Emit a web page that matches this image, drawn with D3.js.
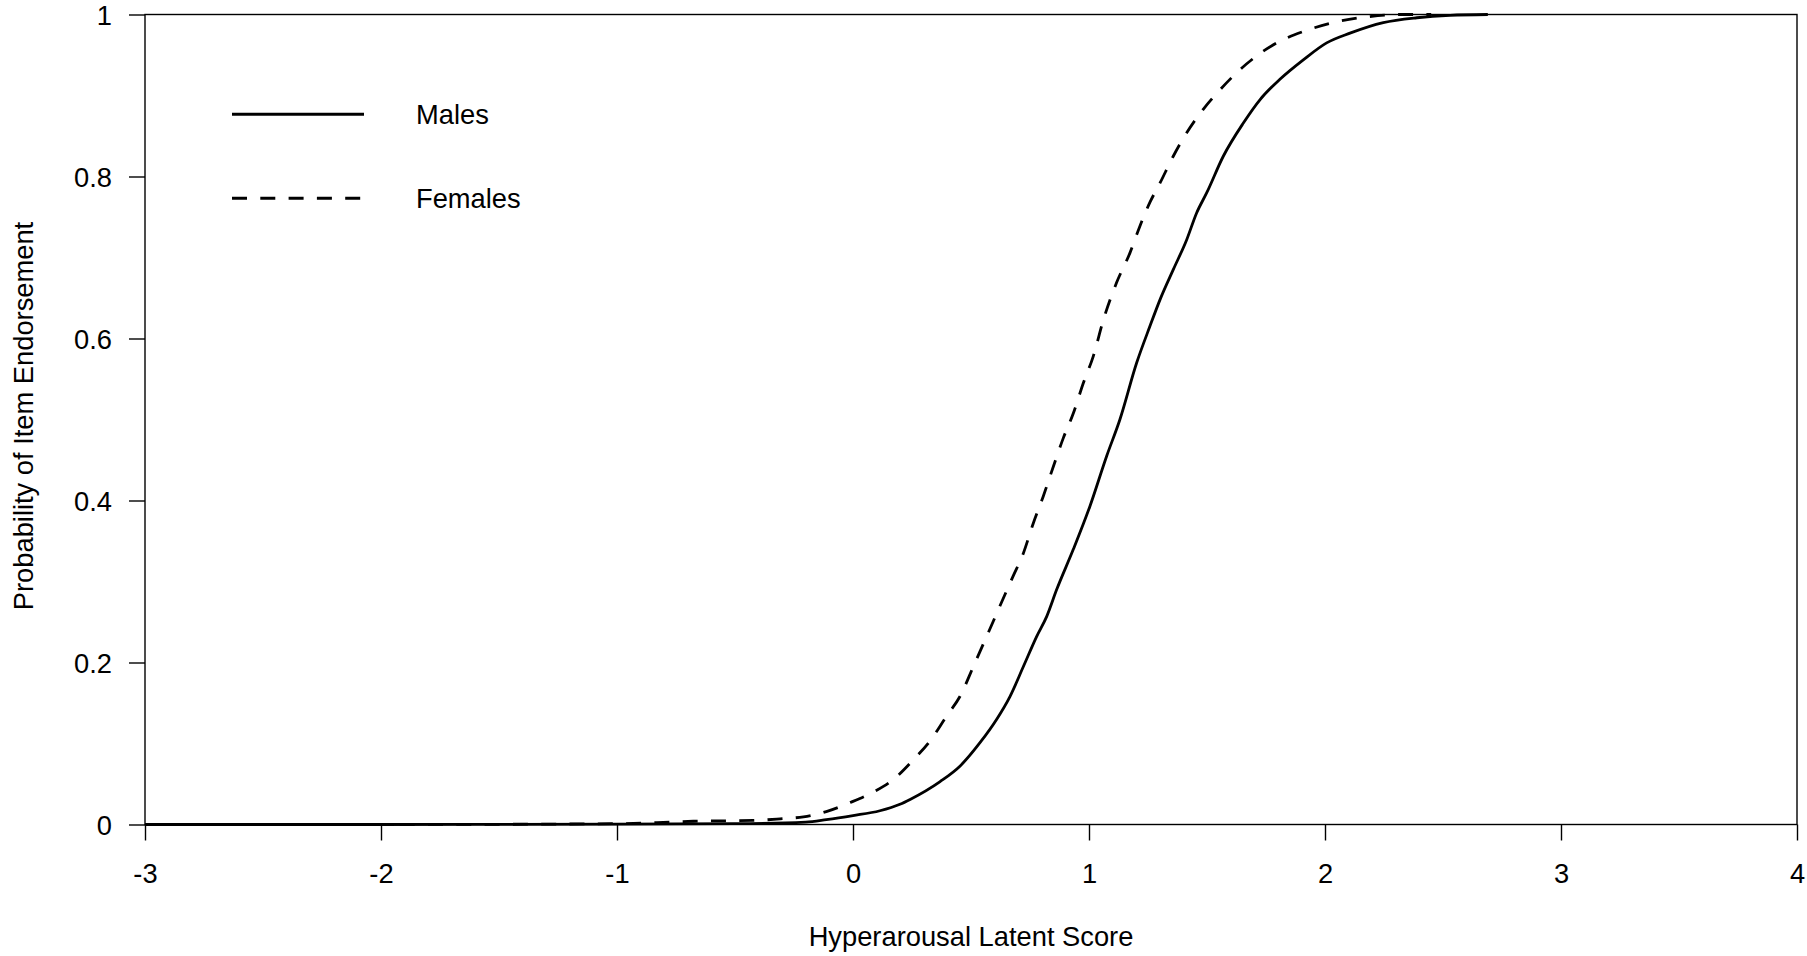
<!DOCTYPE html>
<html>
<head>
<meta charset="utf-8">
<script src="https://cdn.jsdelivr.net/npm/d3@7"></script>
<style>
  html, body { margin: 0; padding: 0; background: #fff; }
  svg { display: block; }
  text { font-family: "Liberation Sans", Arial, sans-serif; fill: #000; }
</style>
</head>
<body>
<svg id="chart" width="1807" height="956"></svg>
<script>
// ---- Data ----
const xTicks = [-3, -2, -1, 0, 1, 2, 3, 4];
const xTickLabels = ["-3", "-2", "-1", "0", "1", "2", "3", "4"];
const yTicks = [0, 0.2, 0.4, 0.6, 0.8, 1];
const yTickLabels = ["0", "0.2", "0.4", "0.6", "0.8", "1"];

const thetaMales = [-3, -2, -1, -0.5, -0.2, -0.113, 0, 0.114, 0.199, 0.242, 0.369, 0.453, 0.538, 0.609, 0.665, 0.722, 0.778, 0.821, 0.863, 0.934, 1.004, 1.075, 1.131, 1.202, 1.258, 1.301, 1.357, 1.414, 1.456, 1.499, 1.569, 1.654, 1.725, 1.809, 1.908, 2.007, 2.106, 2.247, 2.389, 2.53, 2.69];
const probMales  = [0, 0, 0.0005, 0.001, 0.003, 0.006, 0.011, 0.017, 0.025, 0.031, 0.053, 0.072, 0.101, 0.130, 0.158, 0.195, 0.232, 0.257, 0.290, 0.340, 0.393, 0.455, 0.500, 0.570, 0.615, 0.648, 0.685, 0.722, 0.755, 0.780, 0.825, 0.866, 0.895, 0.920, 0.944, 0.965, 0.977, 0.990, 0.996, 0.999, 1.0];

const thetaFemales = [-3, -2, -1, -0.77, -0.677, -0.422, -0.309, -0.21, -0.113, -0.013, 0.086, 0.171, 0.256, 0.326, 0.397, 0.453, 0.510, 0.566, 0.623, 0.679, 0.722, 0.764, 0.806, 0.849, 0.891, 0.934, 0.976, 1.018, 1.061, 1.117, 1.174, 1.216, 1.258, 1.301, 1.357, 1.414, 1.484, 1.555, 1.64, 1.711, 1.809, 1.908, 2.035, 2.176, 2.318, 2.45];
const probFemales  = [0, 0, 0.001, 0.003, 0.004, 0.005, 0.007, 0.0095, 0.016, 0.027, 0.040, 0.0556, 0.080, 0.103, 0.134, 0.158, 0.195, 0.232, 0.270, 0.307, 0.335, 0.372, 0.405, 0.442, 0.477, 0.508, 0.545, 0.578, 0.623, 0.669, 0.706, 0.739, 0.768, 0.792, 0.825, 0.854, 0.883, 0.907, 0.932, 0.949, 0.967, 0.979, 0.990, 0.997, 1.0, 1.0];

const seriesNames = ["Males", "Females"];
const xTitle = "Hyperarousal Latent Score";
const yTitle = "Probability of Item Endorsement";

// ---- Layout ----
const svg = d3.select("#chart");
const pLeft = 145, pRight = 1797, pTop = 14.5, pBottom = 824.5;
const FS = 27.3;
const FONT = '"Liberation Sans", Arial, sans-serif';

const x = d3.scaleLinear().domain([-3, 4]).range([pLeft, pRight]);
const y = d3.scaleLinear().domain([0, 1]).range([pBottom, pTop]);

// frame
svg.append("rect")
  .attr("x", pLeft).attr("y", pTop)
  .attr("width", pRight - pLeft).attr("height", pBottom - pTop)
  .attr("fill", "none").attr("stroke", "#000").attr("stroke-width", 1.4);

// x axis
const gx = svg.append("g").attr("transform", `translate(0,${pBottom})`)
  .call(d3.axisBottom(x).tickValues(xTicks).tickFormat((d, i) => xTickLabels[i]).tickSize(16).tickSizeOuter(0));
gx.select(".domain").remove();
gx.selectAll(".tick line").attr("stroke", "#000").attr("stroke-width", 1.4);
gx.selectAll(".tick text")
  .attr("y", 58.5).attr("dy", null)
  .style("font-size", FS + "px").style("font-family", FONT).attr("fill", "#000");

// y axis
const gy = svg.append("g").attr("transform", `translate(${pLeft},0)`)
  .call(d3.axisLeft(y).tickValues(yTicks).tickFormat((d, i) => yTickLabels[i]).tickSize(16).tickSizeOuter(0));
gy.select(".domain").remove();
gy.selectAll(".tick line").attr("stroke", "#000").attr("stroke-width", 1.4);
gy.selectAll(".tick text")
  .attr("x", -33).attr("dy", "0.36em")
  .style("font-size", FS + "px").style("font-family", FONT).attr("fill", "#000");

// curves
const line = d3.line().x(d => x(d[0])).y(d => y(d[1])).curve(d3.curveMonotoneX);
const males = thetaMales.map((t, i) => [t, probMales[i]]);
const females = thetaFemales.map((t, i) => [t, probFemales[i]]);

svg.append("path").datum(males).attr("d", line)
  .attr("fill", "none").attr("stroke", "#000").attr("stroke-width", 2.8).attr("stroke-linejoin", "round");
svg.append("path").datum(females).attr("d", line)
  .attr("fill", "none").attr("stroke", "#000").attr("stroke-width", 2.8)
  .attr("stroke-dasharray", "15,13.3");

// legend
const legend = svg.append("g");
const legY = [114.3, 198.3];
const legDash = [null, "15,13.3"];
seriesNames.forEach((name, i) => {
  legend.append("line")
    .attr("x1", 232).attr("x2", i === 0 ? 364 : 361)
    .attr("y1", legY[i]).attr("y2", legY[i])
    .attr("stroke", "#000").attr("stroke-width", 3)
    .attr("stroke-dasharray", legDash[i]);
  legend.append("text")
    .attr("x", 416).attr("y", legY[i] + 9.5)
    .style("font-size", FS + "px")
    .text(name);
});

// axis titles
svg.append("text")
  .attr("x", (pLeft + pRight) / 2).attr("y", 946)
  .attr("text-anchor", "middle")
  .style("font-size", FS + "px")
  .text(xTitle);

svg.append("text")
  .attr("transform", `translate(33,416) rotate(-90)`)
  .attr("text-anchor", "middle")
  .style("font-size", FS + "px")
  .text(yTitle);
</script>
</body>
</html>
